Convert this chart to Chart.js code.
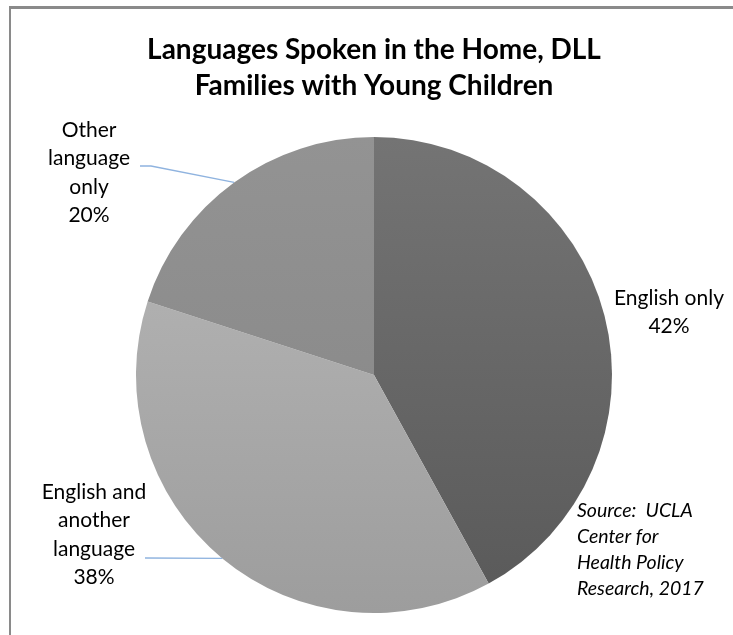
<!DOCTYPE html>
<html>
<head>
<meta charset="utf-8">
<script src="https://cdn.jsdelivr.net/npm/chart.js@4.4.1/dist/chart.umd.min.js"></script>
<style>
    html, body { margin: 0; padding: 0; background: #fff; }
    #wrap { position: relative; width: 733px; height: 635px; overflow: hidden; }
    #frame { position: absolute; left: 9px; top: 6px; right: -10px; bottom: -10px;
             border-left: 2px solid #8a8a8a; border-top: 3px solid #8a8a8a; }
    canvas { position: absolute; left: 0; top: 0; }
</style>
</head>
<body>
<div id="wrap">
    <div id="frame"></div>
    <canvas id="pieChart" width="733" height="635"></canvas>
</div>
<script>
// Data
const categories = ['English only', 'English and another language', 'Other language only'];
const shares = [42, 38, 20];
const titleLines = ['Languages Spoken in the Home, DLL', 'Families with Young Children'];
const sourceLines = ['Source:  UCLA', 'Center for', 'Health Policy', 'Research, 2017'];

// Label text for each slice (split as in the picture)
const labelLines = [
    ['English only', shares[0] + '%'],
    ['English and', 'another', 'language', shares[1] + '%'],
    ['Other', 'language', 'only', shares[2] + '%']
];

// Slice shading, top -> bottom
const sliceShades = [
    ['#747474', '#595959'],
    ['#b9b9b9', '#9d9d9d'],
    ['#939393', '#848484']
];

function sliceFill(context) {
    const chart = context.chart;
    const area = chart.chartArea;
    const shade = sliceShades[context.dataIndex];
    if (!area) return shade[0];
    const g = chart.ctx.createLinearGradient(0, area.top, 0, area.bottom);
    g.addColorStop(0, shade[0]);
    g.addColorStop(1, shade[1]);
    return g;
}

// Draw title, slice labels with leader lines, and source note
const annotations = {
    id: 'annotations',
    afterDraw(chart) {
        const ctx = chart.ctx;
        const meta = chart.getDatasetMeta(0);
        ctx.save();

        // title
        ctx.fillStyle = '#000';
        ctx.textAlign = 'center';
        ctx.textBaseline = 'alphabetic';
        ctx.font = 'bold 28px Lato';
        ctx.fillText(titleLines[0], 374, 59);
        ctx.fillText(titleLines[1], 374, 95);

        // label anchors (text centre)
        const anchors = [
            { x: 669, y: 298 },
            { x: 94, y: 492 },
            { x: 89, y: 130 }
        ];
        ctx.font = '21px Lato';
        ctx.textBaseline = 'middle';
        labelLines.forEach((lines, i) => {
            lines.forEach((t, k) => {
                ctx.fillText(t, anchors[i].x, anchors[i].y + k * 28.5);
            });
        });

        // leader lines, end points taken on the slice arcs
        ctx.strokeStyle = '#8fb3df';
        ctx.lineWidth = 1.3;
        const arcPoint = (idx, frac) => {
            const el = meta.data[idx];
            const a = el.startAngle + (el.endAngle - el.startAngle) * frac;
            return { x: el.x + Math.cos(a) * el.outerRadius, y: el.y + Math.sin(a) * el.outerRadius };
        };
        // Other language only
        let p = arcPoint(2, 0.5);
        ctx.beginPath();
        ctx.moveTo(140, 166);
        ctx.lineTo(151, 166);
        ctx.lineTo(p.x, p.y);
        ctx.stroke();
        // English and another language
        p = arcPoint(1, 0.5);
        ctx.beginPath();
        ctx.moveTo(145, 558);
        ctx.lineTo(p.x, p.y);
        ctx.stroke();

        // source note
        ctx.font = 'italic 19.5px Lato';
        ctx.textAlign = 'left';
        ctx.textBaseline = 'middle';
        sourceLines.forEach((t, k) => {
            ctx.fillText(t, 577, 511 + k * 26);
        });

        ctx.restore();
    }
};

new Chart(document.getElementById('pieChart'), {
    type: 'pie',
    data: {
        labels: categories,
        datasets: [{
            data: shares,
            backgroundColor: sliceFill,
            borderWidth: 0
        }]
    },
    options: {
        responsive: false,
        animation: false,
        rotation: 0,
        layout: { padding: { left: 136, right: 121, top: 137, bottom: 22 } },
        plugins: {
            legend: { display: false },
            title: { display: false },
            tooltip: { enabled: false }
        }
    },
    plugins: [annotations]
});
</script>
</body>
</html>
